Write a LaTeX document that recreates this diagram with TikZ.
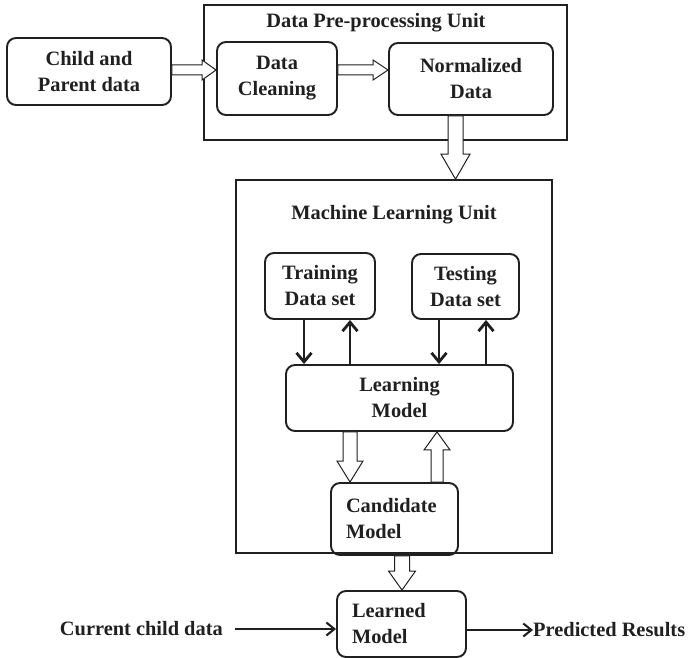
\documentclass[tikz,border=0pt]{standalone}
\usepackage{fontspec}
\setmainfont{Liberation Serif}
\usetikzlibrary{calc,arrows.meta}
\definecolor{ink}{HTML}{202020}

\tikzset{
  lbl/.style={text=ink, font=\fontsize{20.4}{26}\selectfont\bfseries},
  box/.style={lbl, draw=ink, line width=1.9pt, rounded corners=9pt, inner sep=0pt, align=center},
  leftbox/.style={box, align=left, inner xsep=15pt},
  unit/.style={draw=ink, line width=1.7pt, inner sep=0pt},
  hollow/.style={draw=ink, line width=1pt, fill=white, line join=miter},
  flow/.style={draw=ink, line width=2.8pt, -{Straight Barb[length=9pt,width=15pt]}},
  thinflow/.style={draw=ink, line width=2.1pt, -{Straight Barb[length=8pt,width=13pt]}},
}

% Block arrow: shaft half-width, head half-width, head length, tail point, tip point
\newcommand{\hollowarrow}[5]{%
  \coordinate (ha-t) at #4;
  \coordinate (ha-p) at #5;
  \coordinate (ha-b) at ($(ha-p)!#3!(ha-t)$);
  \draw[hollow] ($(ha-t)!#1!90:(ha-p)$) -- ($(ha-b)!#1!90:(ha-p)$)
    -- ($(ha-b)!#2!90:(ha-p)$) -- (ha-p) -- ($(ha-b)!#2!-90:(ha-p)$)
    -- ($(ha-b)!#1!-90:(ha-p)$) -- ($(ha-t)!#1!-90:(ha-p)$) -- cycle;
}

\begin{document}
\begin{tikzpicture}[x=1pt, y=-1pt]
\useasboundingbox (0,0) rectangle (688,658);

% Unit frames
\node[unit, minimum width=363pt, minimum height=135pt] (pre) at (385.5,72.5) {};
\node[lbl] (pretitle) at (376,23) {Data Pre-processing Unit};
\node[unit, minimum width=316pt, minimum height=373pt] (ml) at (394,366.5) {};
\node[lbl] (mltitle) at (394,215) {Machine Learning Unit};

% Pre-processing stage
\node[box, minimum width=164pt, minimum height=67pt] (child) at (89,71.5) {Child and\\Parent data};
\node[box, minimum width=120pt, minimum height=73pt] (clean) at (277,78.5) {Data\\Cleaning};
\node[box, minimum width=164pt, minimum height=72pt] (norm) at (471,79) {Normalized\\Data};

% Learning stage
\node[box, minimum width=110pt, minimum height=66pt] (train) at (320,286) {Training\\Data set};
\node[box, minimum width=107pt, minimum height=65pt] (test) at (465.5,286.5) {Testing\\Data set};
\node[box, minimum width=227pt, minimum height=66pt] (lm) at (399.5,398) {Learning\\Model};
\node[leftbox, text width=97pt, minimum height=72pt] (cand) at (394.5,519) {Candidate\\Model};

% Prediction stage
\node[leftbox, text width=99pt, minimum height=66pt] (learned) at (401.5,624) {Learned\\Model};
\node[lbl, anchor=east, inner sep=0pt] (current) at (223,629) {Current child data};
\node[lbl, anchor=west, inner sep=0pt] (pred) at (533,630) {Predicted Results};

% Reference lines for connector positions
\coordinate (row) at (0,70);
\coordinate (xa) at (455.5,0);
\coordinate (xb) at (350,0);
\coordinate (xc) at (437,0);
\coordinate (xd) at (402,0);
\coordinate (xe) at (304,0);
\coordinate (xf) at (439,0);
\coordinate (xg) at (486,0);

% Block arrows
\hollowarrow{5pt}{10pt}{14pt}{(child.east |- row)}{(clean.west |- row)}
\hollowarrow{5pt}{10pt}{15pt}{(clean.east |- row)}{(norm.west |- row)}
\hollowarrow{7.5pt}{14.5pt}{25pt}{(norm.south -| xa)}{(ml.north -| xa)}
\hollowarrow{7pt}{13pt}{21pt}{(lm.south -| xb)}{(cand.north -| xb)}
\hollowarrow{6pt}{13pt}{18pt}{(cand.north -| xc)}{(lm.south -| xc)}
\hollowarrow{7.5pt}{13.5pt}{19pt}{(cand.south -| xd)}{(learned.north -| xd)}

% Data set exchange
\draw[flow] (train.south -| xe) -- (lm.north -| xe);
\draw[flow] (lm.north -| xb) -- (train.south -| xb);
\draw[flow] (test.south -| xf) -- (lm.north -| xf);
\draw[flow] (lm.north -| xg) -- (test.south -| xg);

% Input and output
\draw[thinflow, shorten <=12pt] (current.east) -- (learned.west |- current.east);
\draw[thinflow] (learned.east |- pred.west) -- (pred.west);
\end{tikzpicture}
\end{document}
